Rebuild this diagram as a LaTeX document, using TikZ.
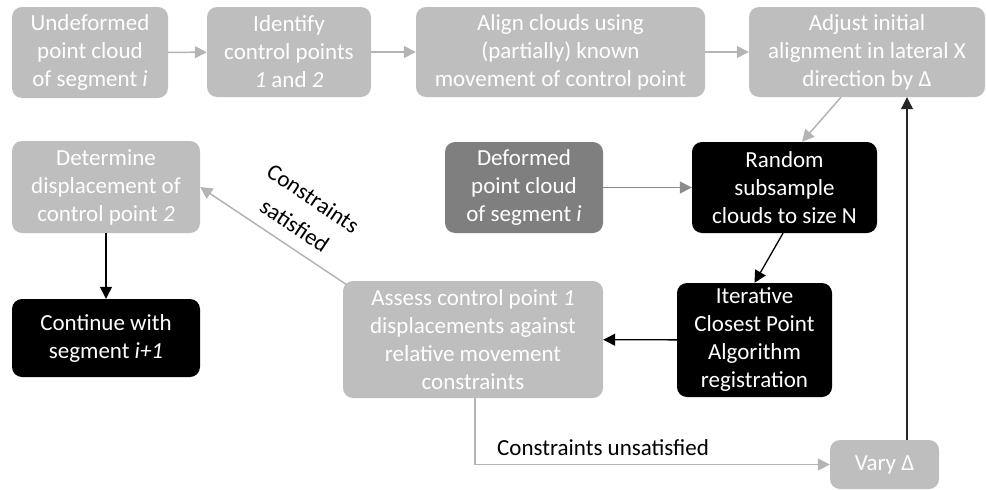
\documentclass[tikz,border=0pt]{standalone}
\usepackage{fontspec}
\setmainfont{Carlito}
\usetikzlibrary{arrows.meta,calc}
\definecolor{boxlight}{HTML}{BEBEBE}
\definecolor{boxmid}{HTML}{7F7F7F}
\definecolor{linelight}{HTML}{B4B4B4}
\definecolor{linemid}{HTML}{8C8C8C}
\begin{document}
\begin{tikzpicture}[x=1pt,y=-1pt,
  box/.style={rounded corners=10pt, fill=boxlight, text=white, align=center,
    inner sep=0pt, font=\fontsize{23}{28}\selectfont},
  midbox/.style={box, fill=boxmid},
  darkbox/.style={box, fill=black},
  tip/.style={-{Triangle[length=12pt,width=12pt]}},
  lightarrow/.style={tip, draw=linelight, line width=1.5pt},
  midarrow/.style={tip, draw=linemid, line width=1.3pt},
  darkarrow/.style={tip, draw=black, line width=1.3pt},
  lab/.style={text=black, inner sep=0pt, font=\fontsize{23}{28}\selectfont}]
\useasboundingbox (0,0) rectangle (986,490);

% top row
\node[box, minimum width=156pt, minimum height=91pt] (und) at (90,52.5)
  {Undeformed\\point cloud\\of segment \textit{i}};
\node[box, minimum width=164pt, minimum height=90pt] (idf) at (289,52)
  {Identify\\control points\\\textit{1} and \textit{2}};
\node[box, minimum width=289pt, minimum height=90pt] (aln) at (560.5,52)
  {Align clouds using\\(partially) known\\movement of control point};
\node[box, minimum width=236pt, minimum height=90pt] (adj) at (867,52)
  {Adjust initial\\alignment in lateral X\\direction by Δ};

% middle row
\node[box, minimum width=188pt, minimum height=92pt] (det) at (106,187)
  {Determine\\displacement of\\control point \textit{2}};
\node[midbox, minimum width=158pt, minimum height=91pt] (def) at (524,187.5)
  {Deformed\\point cloud\\of segment \textit{i}};
\node[darkbox, minimum width=185pt, minimum height=91pt] (rnd) at (784.5,187.5)
  {Random\\subsample\\clouds to size N};

% lower row
\node[darkbox, minimum width=188pt, minimum height=78pt] (cnt) at (106,338)
  {Continue with\\segment \textit{i+1}};
\node[box, minimum width=260pt, minimum height=117pt] (ass) at (473,339.5)
  {Assess control point \textit{1}\\displacements against\\relative movement\\constraints};
\node[darkbox, minimum width=155pt, minimum height=114pt] (icp) at (754.5,340)
  {Iterative\\Closest Point\\Algorithm\\registration};
\node[box, minimum width=109pt, minimum height=49pt] (vary) at (884.5,464.5)
  {Vary Δ};

% connectors
\draw[lightarrow] (und) -- (idf);
\draw[lightarrow] (idf) -- (aln);
\draw[lightarrow] (aln) -- (adj);
\draw[lightarrow] ([xshift=-26pt]adj.south) -- ([xshift=17.5pt]rnd.north);
\draw[midarrow] (def) -- (rnd);
\draw[darkarrow] ([xshift=-1.5pt]rnd.south) -- (icp.north);
\draw[darkarrow] (icp) -- (ass);
\draw[lightarrow] ([shift={(4,4)}]ass.north west) -- (det.east);
\draw[darkarrow] (det) -- (cnt);
\draw[lightarrow] ([xshift=2pt]ass.south) |- (vary.west);
\draw[darkarrow, line width=1.1pt, draw=black!85] ([xshift=22.5pt]vary.north) -- ([xshift=22.5pt]vary.north |- adj.south);

% connector labels
\node[lab, rotate=-34, align=center] (sat) at (304,212) {Constraints\\[5pt]satisfied};
\node[lab, anchor=base west] (unsat) at (497,455) {Constraints unsatisfied};
\end{tikzpicture}
\end{document}
